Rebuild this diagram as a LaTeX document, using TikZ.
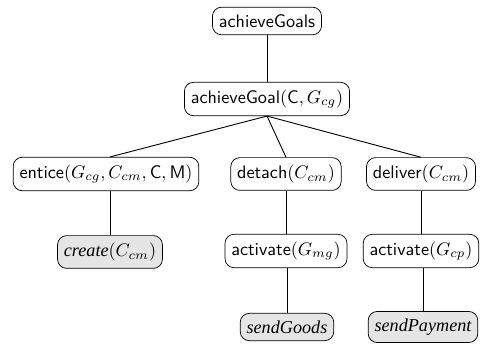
\documentclass[tikz,border=0pt]{standalone}
\usepackage{fontspec}
\newfontfamily\leaffont{Liberation Serif}
\tikzset{
  box/.style={draw, rounded corners=5pt, inner xsep=3.5pt, inner ysep=4pt, font=\sffamily},
  leaf/.style={box, fill=black!10},
  conn/.style={draw, line width=0.5pt}
}
\begin{document}
\begin{tikzpicture}[x=0.55pt,y=-0.55pt]
\useasboundingbox (0,0) rectangle (484,345);
\node[box] (ag) at (267,21) {achieveGoals};
\node[box] (agc) at (267,99) {achieveGoal$(\mathsf{C}, G_{cg})$};
\node[box] (en) at (106,174) {entice$(G_{cg}, C_{cm}, \mathsf{C}, \mathsf{M})$};
\node[box] (de) at (286,174) {detach$(C_{cm})$};
\node[box] (dl) at (421,174) {deliver$(C_{cm})$};
\node[leaf] (cr) at (110,252) {\leaffont\itshape create\upshape$(C_{cm})$};
\node[box] (am) at (286,251) {activate$(G_{mg})$};
\node[box] (ap) at (421,251) {activate$(G_{cp})$};
\node[leaf] (sg) at (287,327) {\leaffont\itshape sendGoods};
\node[leaf] (sp) at (423,327) {\leaffont\itshape sendPayment};
\draw[conn] (ag) -- (agc);
\draw[conn] (agc.south) -- (en.north -| cr.north);
\draw[conn] (agc.south) -- (de.north);
\draw[conn] (agc.south) -- (dl.north);
\draw[conn] (cr.north) -- (cr.north |- en.south);
\draw[conn] (de) -- (am);
\draw[conn] (ap.north) -- (ap.north |- dl.south);
\draw[conn] (sg.north) -- (sg.north |- am.south);
\draw[conn] (sp.north) -- (sp.north |- ap.south);
\end{tikzpicture}
\end{document}
